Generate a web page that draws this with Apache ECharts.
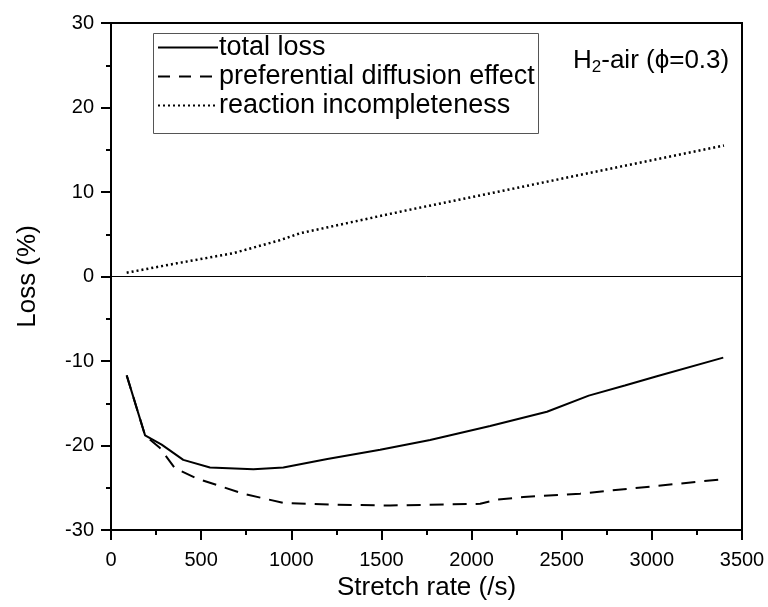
<!DOCTYPE html>
<html>
<head>
<meta charset="utf-8">
<script src="https://cdn.jsdelivr.net/npm/echarts@6/dist/echarts.min.js"></script>
<style>
html,body{margin:0;padding:0;background:#fff;}
#main{width:768px;height:607px;}
</style>
</head>
<body>
<div id="main"></div>
<script>
// ---- data ----
var seriesNames = ['total loss', 'preferential diffusion effect', 'reaction incompleteness'];
var totalX = [87, 189, 281, 401, 549, 790, 956, 1200, 1493, 1770, 2103, 2418, 2650, 2850, 3028, 3396];
var totalY = [-11.7, -18.8, -19.9, -21.7, -22.6, -22.8, -22.6, -21.6, -20.5, -19.35, -17.7, -16.0, -14.1, -12.9, -11.8, -9.6];
var prefX = [87, 189, 272, 355, 476, 734, 956, 1234, 1548, 2048, 2140, 2288, 2602, 2973, 3390];
var prefY = [-11.7, -18.8, -20.3, -22.7, -23.9, -25.7, -26.8, -27.0, -27.1, -26.9, -26.4, -26.1, -25.7, -24.9, -24.0];
var reacX = [87, 365, 677, 938, 1049, 1604, 2232, 2824, 3400];
var reacY = [0.45, 1.56, 2.75, 4.3, 5.12, 7.67, 10.4, 13.0, 15.5];
var xTicks = {min: 0, max: 3500, interval: 500};
var yTicks = {min: -30, max: 30, interval: 10};
var xTitle = 'Stretch rate (/s)';
var yTitle = 'Loss (%)';
var annotation = ['H', '2', '-air (\u03d5=0.3)'];

function pairs(xs, ys) { return xs.map(function (x, i) { return [x, ys[i]]; }); }

var FONT = '"Liberation Sans", Arial, sans-serif';
var chart = echarts.init(document.getElementById('main'), null, {renderer: 'canvas'});
var option = {
  animation: false,
  backgroundColor: '#fff',
  textStyle: {fontFamily: FONT, color: '#000'},
  grid: {left: 111, right: 26, top: 23, bottom: 77, show: true, borderColor: '#000', borderWidth: 2, backgroundColor: 'transparent'},
  legend: {
    left: 157, top: 34, orient: 'vertical', itemWidth: 60, itemHeight: 14, itemGap: 2,
    padding: 0, backgroundColor: 'transparent',
    itemStyle: {opacity: 0},
    textStyle: {fontFamily: FONT, fontSize: 27, lineHeight: 26, color: '#000', padding: [0, 0, 0, -4]},
    data: [
      {name: seriesNames[0]},
      {name: seriesNames[1], lineStyle: {type: [12, 9], width: 2}},
      {name: seriesNames[2]}
    ]
  },
  xAxis: {
    type: 'value', min: xTicks.min, max: xTicks.max, interval: xTicks.interval,
    name: xTitle, nameLocation: 'middle', nameGap: 44,
    nameTextStyle: {fontFamily: FONT, fontSize: 26, color: '#000'},
    axisLine: {show: true, onZero: false, lineStyle: {color: '#000', width: 2}},
    axisTick: {show: true, inside: false, length: 10, lineStyle: {color: '#000', width: 2}},
    minorTick: {show: true, splitNumber: 2, length: 5, lineStyle: {color: '#000', width: 2}},
    axisLabel: {fontFamily: FONT, fontSize: 20, color: '#000', margin: 20, formatter: function (v) { return String(v); }},
    splitLine: {show: false}
  },
  yAxis: {
    type: 'value', min: yTicks.min, max: yTicks.max, interval: yTicks.interval,
    name: yTitle, nameLocation: 'middle', nameGap: 70,
    nameTextStyle: {fontFamily: FONT, fontSize: 26, color: '#000'},
    axisLine: {show: true, onZero: false, lineStyle: {color: '#000', width: 2}},
    axisTick: {show: true, inside: false, length: 10, lineStyle: {color: '#000', width: 2}},
    minorTick: {show: true, splitNumber: 2, length: 5, lineStyle: {color: '#000', width: 2}},
    axisLabel: {fontFamily: FONT, fontSize: 20, color: '#000', margin: 17, formatter: function (v) { return String(v); }},
    splitLine: {show: false}
  },
  graphic: [
    {type: 'rect', left: 153, top: 33, shape: {width: 385, height: 100}, style: {fill: 'transparent', stroke: '#555', lineWidth: 1}, z: 10},
    {type: 'text', left: 573, top: 43, z: 10, style: {
      text: '{a|' + annotation[0] + '}{s|' + annotation[1] + '}{a|' + annotation[2] + '}',
      rich: {
        a: {fontFamily: FONT, fontSize: 26, fill: '#000', lineHeight: 30, verticalAlign: 'middle'},
        s: {fontFamily: FONT, fontSize: 17, fill: '#000', lineHeight: 30, verticalAlign: 'bottom', padding: [16, 0, 0, 0]}
      }
    }}
  ],
  series: [
    {name: seriesNames[0], type: 'line', data: pairs(totalX, totalY), symbol: 'none', smooth: false,
     lineStyle: {color: '#000', width: 2, type: 'solid'}, itemStyle: {color: '#000'},
     markLine: {silent: true, symbol: 'none', label: {show: false}, lineStyle: {color: '#000', width: 1, type: 'solid'}, data: [{yAxis: 0}]}},
    {name: seriesNames[1], type: 'line', data: pairs(prefX, prefY), symbol: 'none',
     lineStyle: {color: '#000', width: 2, type: [14, 9]}, itemStyle: {color: '#000'}},
    {name: seriesNames[2], type: 'line', data: pairs(reacX, reacY), symbol: 'none',
     lineStyle: {color: '#000', width: 2.5, type: [2, 3]}, itemStyle: {color: '#000'}}
  ]
};
chart.setOption(option);
</script>
</body>
</html>
